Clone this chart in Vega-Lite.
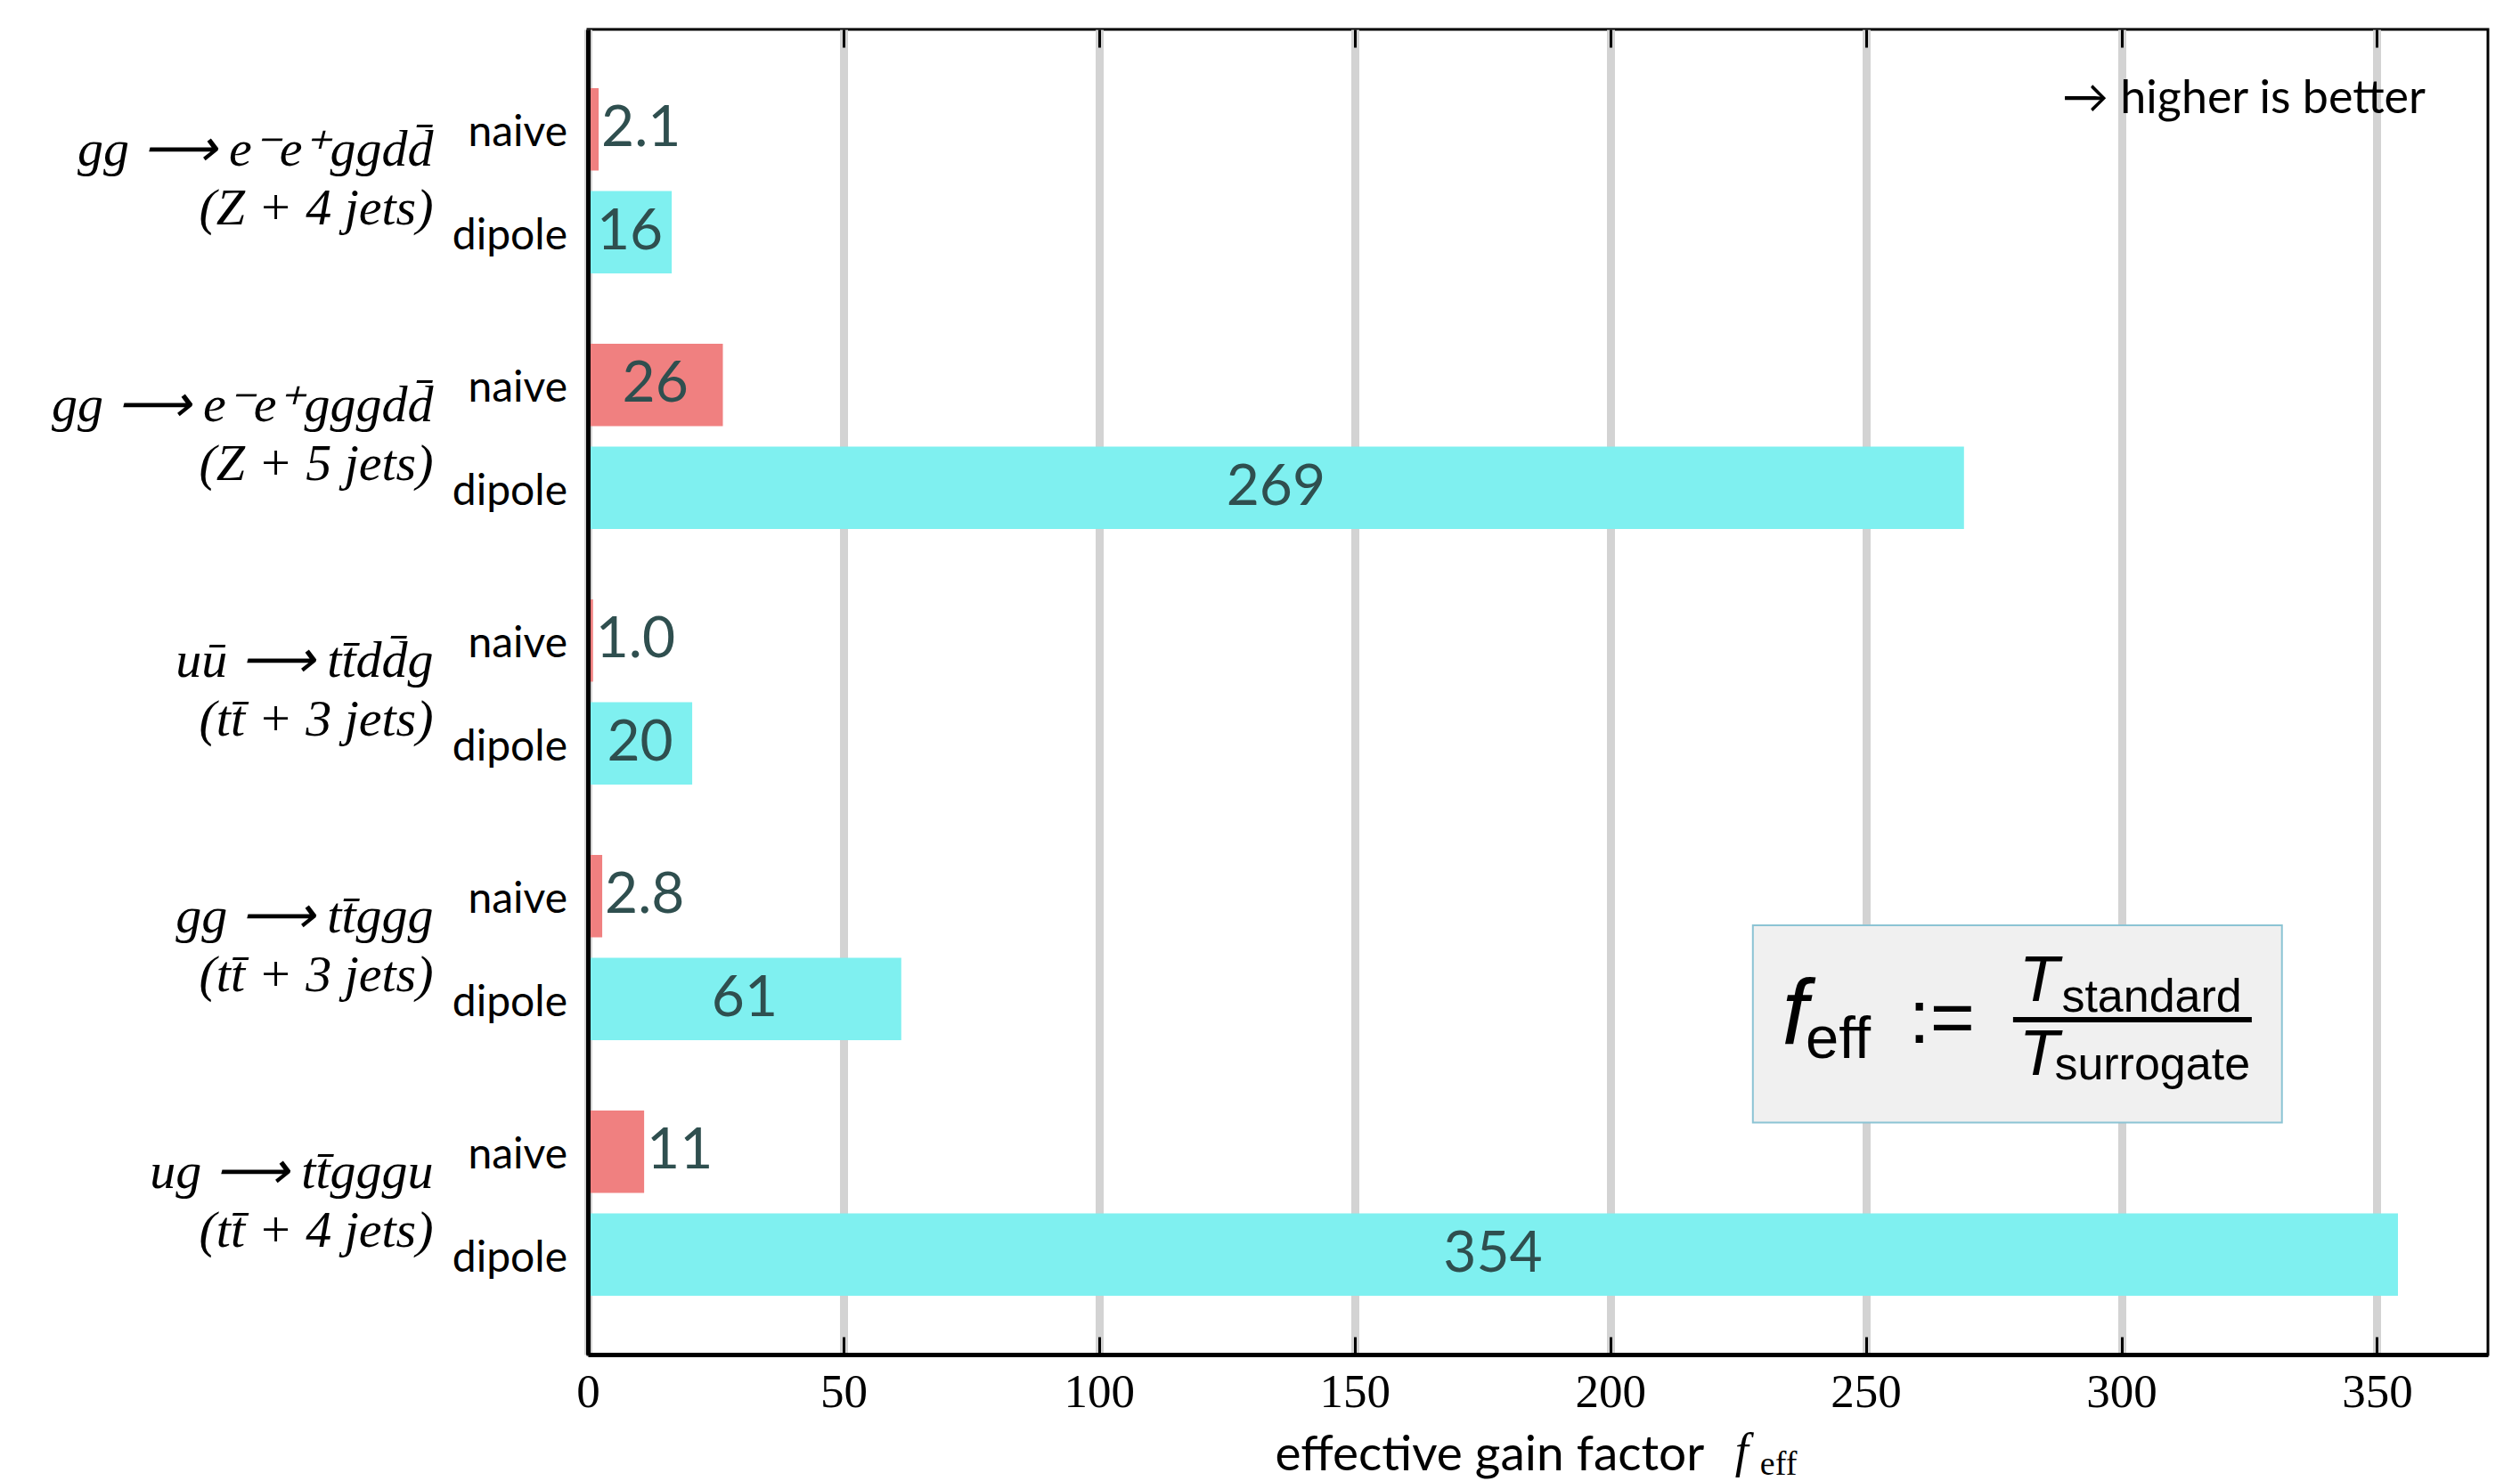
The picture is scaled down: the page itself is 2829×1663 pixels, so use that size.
{
  "$schema": "https://vega.github.io/schema/vega-lite/v6.json",
  "width": 2133,
  "height": 1488,
  "autosize": {"type": "none"},
  "padding": {"left": 660, "top": 33, "right": 36, "bottom": 142},
  "background": "white",
  "config": {"view": {"stroke": "black", "strokeWidth": 3}, "font": "Lato"},
  "data": {
    "values": [
      {"process": "gg ⟶ e⁻e⁺ggdd̄|(Z + 4 jets)", "method": "naive", "value": 2.1, "label": "2.1"},
      {"process": "gg ⟶ e⁻e⁺ggdd̄|(Z + 4 jets)", "method": "dipole", "value": 16.4, "label": "16"},
      {"process": "gg ⟶ e⁻e⁺gggdd̄|(Z + 5 jets)", "method": "naive", "value": 26.4, "label": "26"},
      {"process": "gg ⟶ e⁻e⁺gggdd̄|(Z + 5 jets)", "method": "dipole", "value": 269.2, "label": "269"},
      {"process": "uū ⟶ tt̄dd̄g|(tt̄ + 3 jets)", "method": "naive", "value": 1.0, "label": "1.0"},
      {"process": "uū ⟶ tt̄dd̄g|(tt̄ + 3 jets)", "method": "dipole", "value": 20.4, "label": "20"},
      {"process": "gg ⟶ tt̄ggg|(tt̄ + 3 jets)", "method": "naive", "value": 2.8, "label": "2.8"},
      {"process": "gg ⟶ tt̄ggg|(tt̄ + 3 jets)", "method": "dipole", "value": 61.3, "label": "61"},
      {"process": "ug ⟶ tt̄gggu|(tt̄ + 4 jets)", "method": "naive", "value": 11.0, "label": "11"},
      {"process": "ug ⟶ tt̄gggu|(tt̄ + 4 jets)", "method": "dipole", "value": 354.1, "label": "354"}
    ]
  },
  "resolve": {"scale": {"x": "independent", "y": "independent"}},
  "layer": [
    {
      "layer": [
        {
          "mark": {"type": "bar"},
          "encoding": {
            "y": {
              "field": "process", "type": "nominal", "sort": null,
              "scale": {"paddingInner": 0.195, "paddingOuter": 0.19},
              "axis": {
                "title": null, "ticks": false, "grid": false,
                "domain": true, "domainColor": "black", "domainWidth": 5,
                "labelExpr": "split(datum.label, '|')",
                "labelFont": "Liberation Serif", "labelFontStyle": "italic",
                "labelFontSize": 58, "labelColor": "black",
                "labelPadding": 174, "labelLineHeight": 66, "labelOffset": -34,
                "labelAlign": "right", "labelBaseline": "middle",
                "labelLimit": 0, "zindex": 1
              }
            },
            "yOffset": {
              "field": "method", "type": "nominal", "sort": ["naive", "dipole"],
              "scale": {"paddingInner": 0.2, "paddingOuter": 0.1}
            },
            "x": {
              "field": "value", "type": "quantitative",
              "scale": {"domain": [0, 371.7], "nice": false},
              "axis": {
                "orient": "bottom",
                "title": "effective gain factor",
                "values": [0, 50, 100, 150, 200, 250, 300, 350],
                "grid": true, "gridColor": "#d3d3d3", "gridWidth": 9,
                "tickColor": "black", "tickWidth": 3, "tickSize": -20,
                "labelPadding": 36, "labelFont": "Liberation Serif",
                "labelFontSize": 53, "labelColor": "black", "labelFlush": false,
                "labelOverlap": false,
                "domainColor": "black", "domainWidth": 5,
                "titleFont": "Lato", "titleFontSize": 55, "titleFontWeight": "normal",
                "titleColor": "black", "titleAlign": "left", "titleX": 771, "titleY": 129,
                "titleBaseline": "alphabetic", "zindex": 0
              }
            },
            "color": {
              "field": "method", "type": "nominal",
              "scale": {"domain": ["naive", "dipole"], "range": ["#f08080", "#7ff0f0"]},
              "legend": null
            }
          }
        },
        {
          "transform": [{"filter": "datum.value < 12"}],
          "mark": {"type": "text", "align": "left", "baseline": "middle", "dx": 3, "fontSize": 64, "color": "#2f4f4f", "font": "Lato"},
          "encoding": {
            "y": {"field": "process", "type": "nominal", "sort": null},
            "yOffset": {"field": "method", "type": "nominal", "sort": ["naive", "dipole"]},
            "x": {"field": "value", "type": "quantitative"},
            "text": {"field": "label"}
          }
        },
        {
          "mark": {"type": "text", "align": "right", "baseline": "middle", "dx": -23, "dy": 5, "fontSize": 48, "color": "black", "font": "Lato"},
          "encoding": {
            "y": {"field": "process", "type": "nominal", "sort": null},
            "yOffset": {"field": "method", "type": "nominal", "sort": ["naive", "dipole"]},
            "x": {"datum": 0, "type": "quantitative"},
            "text": {"field": "method"}
          }
        }
      ]
    },
    {
      "transform": [{"filter": "datum.value >= 12"}],
      "mark": {"type": "text", "align": "center", "baseline": "middle", "fontSize": 64, "color": "#2f4f4f", "font": "Lato"},
      "encoding": {
        "y": {"field": "process", "type": "nominal", "sort": null, "scale": {"paddingInner": 0.195, "paddingOuter": 0.19}, "axis": null},
        "yOffset": {"field": "method", "type": "nominal", "sort": ["naive", "dipole"], "scale": {"paddingInner": 0.2, "paddingOuter": 0.1}},
        "x": {
          "field": "value", "type": "quantitative", "scale": {"domain": [0, 743.4], "nice": false},
          "axis": {
            "orient": "top", "labels": false, "domain": false, "grid": false,
            "ticks": true, "tickSize": -20, "tickColor": "black", "tickWidth": 3,
            "title": null, "values": [100, 200, 300, 400, 500, 600, 700]
          }
        },
        "text": {"field": "label"}
      }
    },
    {
      "data": {"values": [{}]},
      "layer": [
        {
          "mark": {"type": "rect", "fill": "#f0f0f0", "stroke": "#8cc4d4", "strokeWidth": 2},
          "encoding": {
            "x": {"datum": 227.9, "type": "quantitative", "scale": {"domain": [0, 371.7], "nice": false, "zero": false}, "axis": null},
            "x2": {"datum": 331.4},
            "y": {"datum": 0.676, "type": "quantitative", "scale": {"domain": [0, 1], "reverse": true, "nice": false, "zero": false}, "axis": null},
            "y2": {"datum": 0.825}
          }
        },
        {
          "mark": {"type": "text", "text": "f", "align": "left", "baseline": "alphabetic", "font": "Liberation Sans", "fontStyle": "italic", "fontSize": 104, "color": "black"},
          "encoding": {"x": {"datum": 233.6, "type": "quantitative", "axis": null}, "y": {"datum": 0.7655, "type": "quantitative", "axis": null}}
        },
        {
          "mark": {"type": "text", "text": "eff", "align": "left", "baseline": "alphabetic", "font": "Liberation Sans", "fontSize": 67, "color": "black"},
          "encoding": {"x": {"datum": 238.2, "type": "quantitative", "axis": null}, "y": {"datum": 0.776, "type": "quantitative", "axis": null}}
        },
        {
          "mark": {"type": "text", "text": ":=", "align": "left", "baseline": "middle", "font": "Liberation Sans", "fontSize": 86, "color": "black"},
          "encoding": {"x": {"datum": 258.4, "type": "quantitative", "axis": null}, "y": {"datum": 0.747, "type": "quantitative", "axis": null}}
        },
        {
          "mark": {"type": "rule", "color": "black", "strokeWidth": 6},
          "encoding": {"x": {"datum": 278.8, "type": "quantitative", "axis": null}, "x2": {"datum": 325.5}, "y": {"datum": 0.7473, "type": "quantitative", "axis": null}}
        },
        {
          "mark": {"type": "text", "text": "T", "align": "left", "baseline": "alphabetic", "font": "Liberation Sans", "fontStyle": "italic", "fontSize": 73, "color": "black"},
          "encoding": {"x": {"datum": 280.0, "type": "quantitative", "axis": null}, "y": {"datum": 0.7332, "type": "quantitative", "axis": null}}
        },
        {
          "mark": {"type": "text", "text": "standard", "align": "left", "baseline": "alphabetic", "font": "Liberation Sans", "fontStyle": "normal", "fontSize": 52, "color": "black"},
          "encoding": {"x": {"datum": 288.3, "type": "quantitative", "axis": null}, "y": {"datum": 0.7413, "type": "quantitative", "axis": null}}
        },
        {
          "mark": {"type": "text", "text": "T", "align": "left", "baseline": "alphabetic", "font": "Liberation Sans", "fontStyle": "italic", "fontSize": 73, "color": "black"},
          "encoding": {"x": {"datum": 280.0, "type": "quantitative", "axis": null}, "y": {"datum": 0.789, "type": "quantitative", "axis": null}}
        },
        {
          "mark": {"type": "text", "text": "surrogate", "align": "left", "baseline": "alphabetic", "font": "Liberation Sans", "fontSize": 52, "color": "black"},
          "encoding": {"x": {"datum": 286.9, "type": "quantitative", "axis": null}, "y": {"datum": 0.7923, "type": "quantitative", "axis": null}}
        },
        {
          "mark": {"type": "text", "text": "→ higher is better", "align": "right", "baseline": "alphabetic", "font": "Lato", "fontSize": 52, "color": "black"},
          "encoding": {"x": {"datum": 359.5, "type": "quantitative", "axis": null}, "y": {"datum": 0.063, "type": "quantitative", "axis": null}}
        },
        {
          "mark": {"type": "text", "text": "f", "align": "left", "baseline": "alphabetic", "font": "Liberation Serif", "fontStyle": "italic", "fontSize": 54, "color": "black"},
          "encoding": {"x": {"datum": 224.4, "type": "quantitative", "axis": null}, "y": {"datum": 1.0845, "type": "quantitative", "axis": null}}
        },
        {
          "mark": {"type": "text", "text": "eff", "align": "left", "baseline": "alphabetic", "font": "Liberation Serif", "fontSize": 38, "color": "black"},
          "encoding": {"x": {"datum": 229.3, "type": "quantitative", "axis": null}, "y": {"datum": 1.0905, "type": "quantitative", "axis": null}}
        }
      ]
    }
  ]
}
